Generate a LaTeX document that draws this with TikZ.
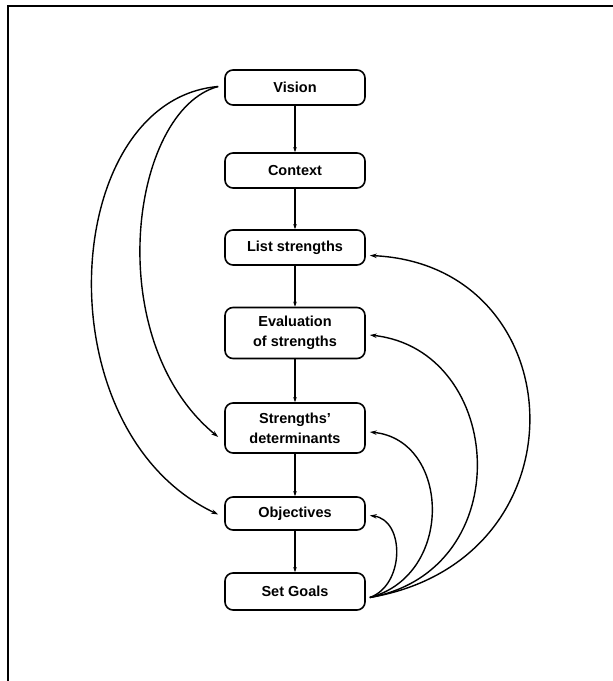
\documentclass[tikz,border=0pt]{standalone}
\usepackage{fontspec}
\setmainfont{Liberation Sans}
\usetikzlibrary{arrows.meta}
\begin{document}
\begin{tikzpicture}[x=1pt,y=-1pt,
  stepbox/.style={draw,line width=1.6pt,rounded corners=8pt,minimum width=140pt,
    inner sep=0pt,align=center,font=\fontsize{14.5}{20}\selectfont\bfseries},
  flow/.style={line width=1.1pt,-{Stealth[length=5pt,width=3.5pt]}},
  loop/.style={line width=1.4pt,-{Stealth[length=7pt,width=4.5pt]}}]
\useasboundingbox (0,0) rectangle (613,681);
% page frame: top rule and left rule
\draw[line width=1.4pt] (613,6) -- (8,6) -- (8,681);

\node[stepbox,minimum height=35pt] (vis) at (295,87.5) {Vision};
\node[stepbox,minimum height=35pt] (ctx) at (295,170.5) {Context};
\node[stepbox,minimum height=35pt] (lst) at (295,247.5) {List strengths};
\node[stepbox,minimum height=51pt] (evl) at (295,333) {Evaluation\\of strengths};
\node[stepbox,minimum height=50pt] (det) at (295,428) {Strengths'\\determinants};
\node[stepbox,minimum height=33pt] (obj) at (295,513.5) {Objectives};
\node[stepbox,minimum height=37pt] (gol) at (295,591.5) {Set Goals};

% main sequence
\draw[flow] (vis) -- (ctx);
\draw[flow] (ctx) -- (lst);
\draw[flow] (lst) -- (evl);
\draw[flow] (evl) -- (det);
\draw[flow] (det) -- (obj);
\draw[flow] (obj) -- (gol);

% feedback from the vision
\coordinate (vw) at ([xshift=-6pt,yshift=1pt]vis.west);
\draw[loop] (vw) .. controls (60,100) and (40,430) .. ([xshift=-6pt,yshift=-1pt]obj.west);
\draw[loop] (vw) .. controls (130,110) and (100,340) .. ([xshift=-6pt,yshift=-9pt]det.west);

% feedback from the goals
\coordinate (ge) at ([xshift=4pt,yshift=-6pt]gol.east);
\draw[loop] (ge) .. controls (590,560) and (575,265) .. ([xshift=4pt,yshift=-8pt]lst.east);
\draw[loop] (ge) .. controls (520,570) and (505,350) .. ([xshift=4pt,yshift=-2pt]evl.east);
\draw[loop] (ge) .. controls (455,575) and (450,440) .. ([xshift=4pt,yshift=-4pt]det.east);
\draw[loop] (ge) .. controls (405,585) and (405,520) .. ([xshift=4pt,yshift=-2pt]obj.east);
\end{tikzpicture}
\end{document}
